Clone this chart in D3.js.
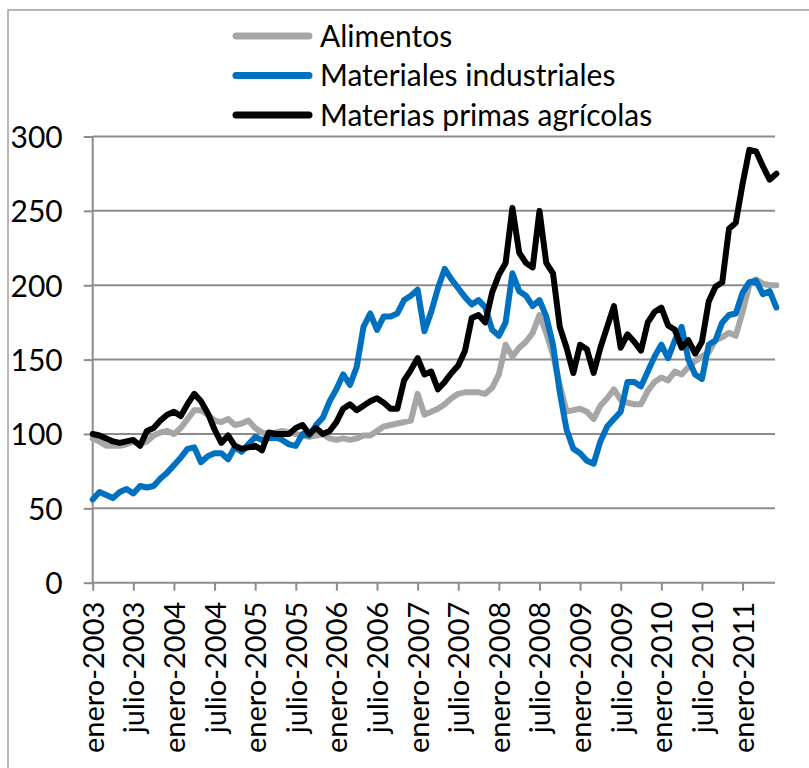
<!DOCTYPE html>
<meta charset="utf-8">
<style>
    body { margin: 0; background: #fff; }
    svg text { font-family: Lato, "Open Sans", sans-serif; fill: #000; }
    .grid line { stroke: #8c8c8c; stroke-width: 2; }
    .axis path, .axis line { stroke: #8c8c8c; stroke-width: 2; fill: none; }
    .serie { fill: none; stroke-width: 6; stroke-linejoin: round; stroke-linecap: round; }
</style>
<svg id="chart" width="809" height="768"></svg>
<script src="https://cdn.jsdelivr.net/npm/d3@7"></script>
<script>

    // monthly values, enero-2003 .. junio-2011
    var alimentos = [
        97, 95, 92, 92, 92, 93, 95, 93, 95, 99,
        101, 102, 100, 104, 110, 116, 116, 113, 109, 108,
        110, 106, 107, 109, 104, 101, 100, 101, 102, 101,
        100, 99, 98, 99, 100, 97, 96, 97, 96, 97,
        99, 99, 102, 105, 106, 107, 108, 109, 127, 113,
        115, 117, 120, 124, 127, 128, 128, 128, 127, 131,
        140, 160, 152, 158, 162, 168, 180, 168, 153, 133,
        115, 116, 117, 115, 110, 119, 124, 130, 123, 121,
        120, 120, 129, 135, 138, 136, 142, 140, 145, 149,
        152, 155, 163, 165, 168, 166, 182, 200, 204, 201,
        200, 200];

    var materiales = [
        56, 61, 59, 57, 61, 63, 60, 65, 64, 65,
        70, 74, 79, 84, 90, 91, 81, 85, 87, 87,
        83, 91, 88, 93, 98, 96, 97, 98, 96, 93,
        92, 100, 99, 106, 111, 122, 130, 140, 133, 145,
        172, 181, 170, 179, 179, 181, 190, 193, 197, 169,
        182, 198, 211, 204, 198, 192, 187, 190, 185, 170,
        166, 175, 208, 196, 193, 186, 190, 179, 160, 128,
        103, 90, 87, 82, 80, 95, 105, 110, 115, 135,
        135, 132, 142, 152, 160, 151, 163, 172, 150, 140,
        137, 160, 163, 175, 180, 181, 195, 202, 203, 194,
        196, 185];

    var agricolas = [
        100, 99, 97, 95, 94, 95, 96, 92, 102, 104,
        109, 113, 115, 112, 120, 127, 122, 114, 103, 94,
        99, 92, 90, 91, 92, 89, 101, 100, 100, 100,
        104, 106, 100, 104, 100, 102, 108, 117, 120, 116,
        119, 122, 124, 121, 117, 117, 136, 143, 151, 140,
        142, 130, 135, 141, 146, 156, 178, 180, 175, 195,
        207, 215, 252, 222, 215, 212, 250, 215, 208, 172,
        158, 141, 160, 157, 141, 158, 172, 186, 158, 167,
        162, 156, 175, 182, 185, 173, 170, 158, 163, 154,
        162, 189, 199, 202, 238, 242, 268, 291, 290, 280,
        271, 275];

    var tickLabels = ["enero-2003", "julio-2003", "enero-2004", "julio-2004",
        "enero-2005", "julio-2005", "enero-2006", "julio-2006", "enero-2007",
        "julio-2007", "enero-2008", "julio-2008", "enero-2009", "julio-2009",
        "enero-2010", "julio-2010", "enero-2011"];

    var yTicks = [0, 50, 100, 150, 200, 250, 300];

    var series = [
        {name: "Alimentos", values: alimentos, color: "#a6a6a6"},
        {name: "Materiales industriales", values: materiales, color: "#0070c0"},
        {name: "Materias primas agrícolas", values: agricolas, color: "#000000"}
    ];

    var svg = d3.select("#chart");

    // outer frame of the chart object
    svg.append("rect")
        .attr("x", 8).attr("y", 10)
        .attr("width", 900).attr("height", 900)
        .attr("fill", "none")
        .attr("stroke", "#a0a0a0")
        .attr("stroke-width", 1.5);

    var x = d3.scaleLinear()
        .domain([0, alimentos.length - 1])
        .range([92.7, 776.4]);

    var y = d3.scaleLinear()
        .domain([0, 300])
        .range([582.7, 136.5]);

    // gridlines
    svg.append("g").attr("class", "grid")
        .selectAll("line").data(yTicks.slice(1)).enter()
        .append("line")
        .attr("x1", x(0)).attr("x2", 775)
        .attr("y1", function(d) { return y(d); })
        .attr("y2", function(d) { return y(d); });

    // y axis
    var yAxis = d3.axisLeft(y).tickValues(yTicks).tickSize(9).tickPadding(21);
    var gY = svg.append("g")
        .attr("class", "axis")
        .attr("transform", "translate(" + x(0) + ",0)")
        .call(yAxis);
    gY.select(".domain").attr("d", "M0," + y(0) + "V" + y(300));
    gY.selectAll("text").style("font-size", "30px").attr("dy", "0.36em");

    // x axis
    var tickIdx = tickLabels.map(function(d, i) { return i * 6; });
    var xAxis = d3.axisBottom(x)
        .tickValues(tickIdx)
        .tickFormat(function(d, i) { return tickLabels[i]; })
        .tickSize(8);
    var gX = svg.append("g")
        .attr("class", "axis")
        .attr("transform", "translate(0," + y(0) + ")")
        .call(xAxis);
    gX.select(".domain").attr("d", "M" + x(0) + ",0H775");
    gX.selectAll("text")
        .style("font-size", "29px")
        .attr("text-anchor", "end")
        .attr("transform", "rotate(-90)")
        .attr("x", -19)
        .attr("y", 0)
        .attr("dy", "0.36em");

    var line = d3.line()
        .x(function(d, i) { return x(i); })
        .y(function(d) { return y(d); });

    svg.append("g").selectAll("path")
        .data(series).enter()
        .append("path")
        .attr("class", "serie")
        .attr("stroke", function(d) { return d.color; })
        .attr("d", function(d) { return line(d.values); });

    // legend
    var legendY = d3.scalePoint().domain(series.map(function(d) { return d.name; })).range([36, 115]);
    var leg = svg.append("g").selectAll("g")
        .data(series).enter()
        .append("g")
        .attr("transform", function(d) { return "translate(0," + legendY(d.name) + ")"; });
    leg.append("line")
        .attr("x1", 236).attr("x2", 309)
        .attr("stroke", function(d) { return d.color; })
        .attr("stroke-width", 7)
        .attr("stroke-linecap", "round");
    leg.append("text")
        .attr("x", 320)
        .attr("dy", "0.36em")
        .style("font-size", "30px")
        .text(function(d) { return d.name; });

</script>
